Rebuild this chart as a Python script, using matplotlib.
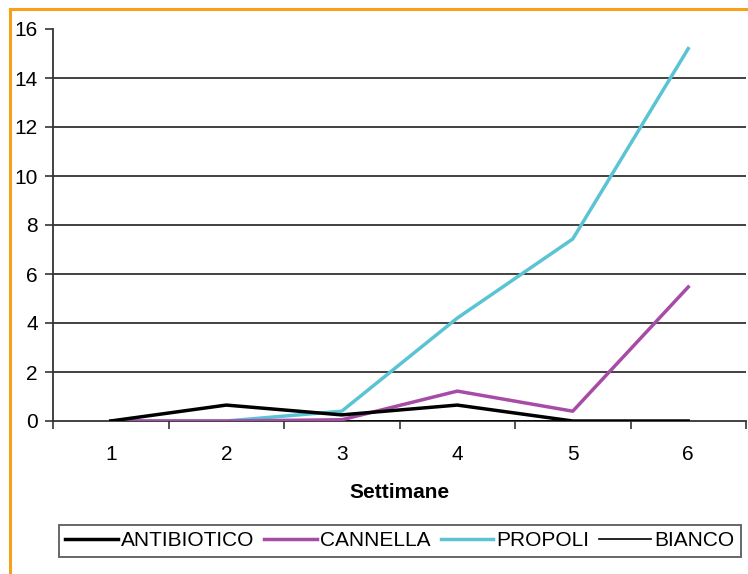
import matplotlib.pyplot as plt
from matplotlib.lines import Line2D

plt.rcParams['font.family'] = ['Liberation Sans', 'DejaVu Sans']

settimane = [1, 2, 3, 4, 5, 6]
antibiotico = [0.0, 0.65, 0.25, 0.65, 0.0, 0.0]
cannella = [0.0, 0.0, 0.05, 1.22, 0.4, 5.47]
propoli = [0.0, 0.0, 0.4, 4.2, 7.43, 15.2]
bianco = [0.0, 0.0, 0.0, 0.0, 0.0, 0.0]
yticks = [0, 2, 4, 6, 8, 10, 12, 14, 16]

fig = plt.figure(figsize=(7.48, 5.74), dpi=100)
ax = fig.add_axes([53 / 748, 1 - 421 / 574, (746 - 53) / 748, (421 - 29) / 574])

# orange frame round the chart (left and top edges)
fig.add_artist(Line2D([10 / 748, 10 / 748], [0, 1 - 9 / 574], color='#f7a11a', lw=2.2))
fig.add_artist(Line2D([10 / 748, 1], [1 - 9 / 574, 1 - 9 / 574], color='#f7a11a', lw=2.2))

for y in yticks[1:-1]:
    ax.axhline(y, color='#333333', lw=1.3, zorder=1)

ax.plot(settimane, bianco, color='black', lw=1.2, label='BIANCO', zorder=3)
ax.plot(settimane, propoli, color='#5bc4d4', lw=2.5, label='PROPOLI', zorder=3)
ax.plot(settimane, cannella, color='#a64ca6', lw=2.5, label='CANNELLA', zorder=3)
ax.plot(settimane, antibiotico, color='black', lw=2.5, label='ANTIBIOTICO', zorder=4)

ax.set_xlim(0.5, 6.5)
ax.set_ylim(0, 16)
ax.set_yticks(yticks)
ax.set_xticks(settimane)
ax.set_xticks([0.5 + i for i in range(7)], minor=True)
ax.tick_params(axis='x', which='major', length=0, pad=17, labelsize=15)
ax.tick_params(axis='x', which='minor', length=6, width=1.2, color='#333333')
ax.tick_params(axis='y', length=6, width=1.2, color='#333333', labelsize=15, pad=5)

for s in ['top', 'right']:
    ax.spines[s].set_visible(False)
for s in ['left', 'bottom']:
    ax.spines[s].set_color('#333333')
    ax.spines[s].set_linewidth(1.3)

ax.set_xlabel('Settimane', fontsize=15, fontweight='bold', labelpad=14)

handles, labels = ax.get_legend_handles_labels()
order = ['ANTIBIOTICO', 'CANNELLA', 'PROPOLI', 'BIANCO']
hmap = dict(zip(labels, handles))
leg = fig.legend([hmap[k] for k in order], order, loc='center',
                 bbox_to_anchor=((55 + 745) / 2 / 748, 1 - 541 / 574),
                 ncol=4, fontsize=15, frameon=True, fancybox=False,
                 edgecolor='#333333', handlelength=2.5, handletextpad=0.15,
                 columnspacing=0.5, borderpad=0.3, borderaxespad=0)
leg.get_frame().set_linewidth(1.3)

fig.savefig('out.png', dpi=100)
